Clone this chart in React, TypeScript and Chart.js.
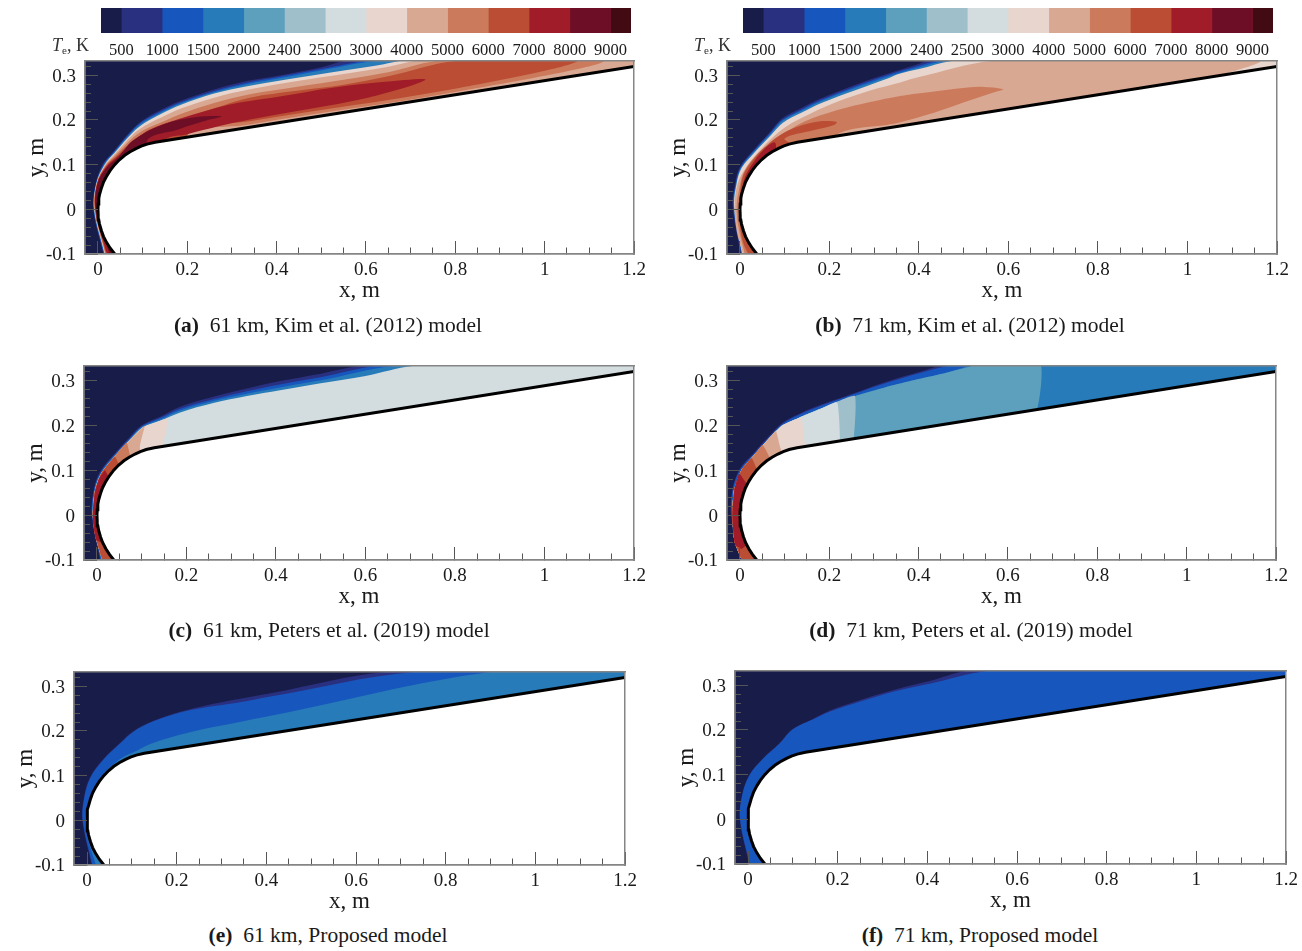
import React, { useEffect, useRef } from "react";
import { Chart, registerables } from "chart.js";

Chart.register(...registerables);
Chart.defaults.font.family = '"Liberation Serif", serif';
Chart.defaults.color = "#1a1a1a";

type P = [number, number];
type Layer = [number, P[], number?];

const levelColors = ["#181c48", "#2a3080", "#1757bd", "#277bb9", "#5ca0bd", "#9fbfcb", "#d3dcdf", "#e8d5cd", "#d9a892", "#cc7a5c", "#ba4d33", "#a01c28", "#6e0e26", "#420b14"];
const levelLabels = ["500", "1000", "1500", "2000", "2400", "2500", "3000", "4000", "5000", "6000", "7000", "8000", "9000"];
const levelSpans = [0.5, 1, 1, 1, 1, 1, 1, 1, 1, 1, 1, 1, 1, 0.5];
const levelTicks = [0.5, 1.5, 2.5, 3.5, 4.5, 5.5, 6.5, 7.5, 8.5, 9.5, 10.5, 11.5, 12.5];

const xMin = -0.029, xMax = 1.2, yMin = -0.1, yMax = 0.332;
const xMajor = [0, 0.2, 0.4, 0.6, 0.8, 1, 1.2];
const xMinor = [0.05, 0.1, 0.15, 0.25, 0.3, 0.35, 0.45, 0.5, 0.55, 0.65, 0.7, 0.75, 0.85, 0.9, 0.95, 1.05, 1.1, 1.15];
const yMajor = [-0.1, 0, 0.1, 0.2, 0.3];
const yMinorT = [-0.08, -0.06, -0.04, -0.02, 0.02, 0.04, 0.06, 0.08, 0.12, 0.14, 0.16, 0.18, 0.22, 0.24, 0.26, 0.28, 0.32];

const wholePlot: P[] = [[-0.029, -0.1], [-0.029, 0.332], [1.2, 0.332], [1.2, -0.1]];
const bodyLine: P[] = [[0.0375, -0.1], [0.0275, -0.087], [0.0198, -0.075], [0.0125, -0.061], [0.0078, -0.048], [0.0035, -0.033], [0.0019, -0.024], [0.0005, -0.012], [0, 0], [0.0005, 0.012], [0.0019, 0.024], [0.0035, 0.033], [0.0078, 0.048], [0.0125, 0.061], [0.0198, 0.075], [0.0275, 0.087], [0.0375, 0.1], [0.048, 0.111], [0.06, 0.121], [0.072, 0.129], [0.085, 0.136], [0.097, 0.1415], [0.11, 0.146], [0.128, 0.15], [1.2, 0.32]];
const bodyFill: P[] = [...bodyLine, [1.2, -0.1]];
const under: P[] = [[1.2, 0.3], [1.2, -0.1], [0.2, -0.11]];
const topRight: P = [1.2, 0.333];

// Panel (a)
const a1: P[] = [[0.012, -0.1], [-0.0105, 0], [-0.005, 0.058], [0.012, 0.103], [0.034, 0.129], [0.075, 0.177], [0.101, 0.2], [0.139, 0.2216], [0.183, 0.242], [0.258, 0.2676], [0.333, 0.287], [0.407, 0.2996], [0.5, 0.318], [0.56, 0.333]];
const a2: P[] = [[0.013, -0.1], [-0.0098, 0], [-0.0045, 0.058], [0.013, 0.102], [0.035, 0.128], [0.076, 0.176], [0.102, 0.198], [0.14, 0.219], [0.184, 0.239], [0.259, 0.2645], [0.334, 0.2835], [0.408, 0.2965], [0.5, 0.314], [0.62, 0.333]];
const a3: P[] = [[0.014, -0.1], [-0.0092, 0], [-0.004, 0.058], [0.014, 0.101], [0.036, 0.127], [0.077, 0.174], [0.103, 0.196], [0.141, 0.217], [0.185, 0.237], [0.26, 0.262], [0.335, 0.2805], [0.41, 0.294], [0.5, 0.311], [0.64, 0.333]];
const a7: P[] = [[0.015, -0.1], [-0.0085, 0], [-0.0035, 0.058], [0.015, 0.1], [0.037, 0.126], [0.078, 0.172], [0.104, 0.193], [0.142, 0.214], [0.186, 0.234], [0.26, 0.259], [0.34, 0.2764], [0.45, 0.295], [0.55, 0.311], [0.64, 0.325], [0.685, 0.333]];
const a8: P[] = [[0.016, -0.1], [-0.0078, 0], [-0.003, 0.058], [0.016, 0.099], [0.038, 0.124], [0.079, 0.168], [0.105, 0.187], [0.143, 0.206], [0.187, 0.226], [0.26, 0.25], [0.34, 0.2688], [0.45, 0.288], [0.55, 0.303], [0.65, 0.319], [0.72, 0.333]];
const a9: P[] = [[0.017, -0.1], [-0.0072, 0], [-0.0025, 0.058], [0.017, 0.098], [0.04, 0.122], [0.08, 0.162], [0.107, 0.18], [0.145, 0.196], [0.19, 0.215], [0.26, 0.238], [0.34, 0.2575], [0.45, 0.275], [0.55, 0.29], [0.65, 0.307], [0.77, 0.333], [1.133, 0.333], [0.793, 0.2613], [0.34, 0.19], [0.15, 0.15]];
const a10: P[] = [[0.018, -0.1], [-0.0065, 0], [-0.002, 0.058], [0.018, 0.097], [0.042, 0.12], [0.082, 0.157], [0.11, 0.172], [0.15, 0.187], [0.2, 0.205], [0.26, 0.226], [0.34, 0.25], [0.45, 0.266], [0.55, 0.279], [0.65, 0.298], [0.808, 0.333], [1.074, 0.333], [0.793, 0.2688], [0.34, 0.197], [0.2, 0.165]];
const a11: P[] = [[0.02, -0.1], [-0.0058, 0], [-0.0015, 0.058], [0.019, 0.096], [0.044, 0.118], [0.083, 0.155], [0.115, 0.178], [0.183, 0.203], [0.295, 0.2345], [0.34, 0.2425], [0.407, 0.2525], [0.529, 0.2728], [0.642, 0.2853], [0.733, 0.29], [0.604, 0.25], [0.34, 0.201], [0.2, 0.168], [0.15, 0.15]];
const a12: P[] = [[0.026, -0.1], [-0.0048, 0], [-0.001, 0.058], [0.02, 0.094], [0.045, 0.116], [0.079, 0.1548], [0.146, 0.19], [0.2207, 0.2066], [0.2767, 0.208], [0.243, 0.199], [0.183, 0.18], [0.109, 0.1472]];

// Panel (b)
const b1: P[] = [[0.0015, -0.1], [-0.0164, 0.006], [-0.011, 0.058], [0, 0.0954], [0.0298, 0.1325], [0.067, 0.1733], [0.093, 0.2029], [0.134, 0.2253], [0.179, 0.2476], [0.2535, 0.2773], [0.328, 0.303], [0.395, 0.324], [0.42, 0.333]];
const b2: P[] = [[0.003, -0.1], [-0.015, 0.006], [-0.0095, 0.058], [0.0015, 0.0945], [0.031, 0.131], [0.068, 0.1715], [0.094, 0.2], [0.135, 0.222], [0.18, 0.2445], [0.2545, 0.274], [0.329, 0.3], [0.396, 0.32], [0.45, 0.333]];
const b3: P[] = [[0.004, -0.1], [-0.014, 0.006], [-0.0085, 0.058], [0.0025, 0.0935], [0.032, 0.13], [0.069, 0.17], [0.095, 0.198], [0.136, 0.22], [0.181, 0.242], [0.255, 0.271], [0.33, 0.297], [0.397, 0.317], [0.47, 0.333]];
const b7: P[] = [[0.005, -0.1], [-0.013, 0.006], [-0.0075, 0.058], [0.0035, 0.0925], [0.033, 0.128], [0.07, 0.167], [0.096, 0.194], [0.137, 0.216], [0.182, 0.238], [0.256, 0.266], [0.33, 0.293], [0.358, 0.304], [0.4, 0.314], [0.486, 0.333]];
const b8: P[] = [[0.007, -0.1], [-0.007, -0.05], [-0.012, 0.006], [-0.005, 0.058], [0.015, 0.0954], [0.052, 0.14], [0.097, 0.1808], [0.1417, 0.2067], [0.216, 0.2402], [0.291, 0.266], [0.358, 0.284], [0.4, 0.296], [0.577, 0.333], [1.158, 0.333], [1.05, 0.295], [0.6, 0.2]];
const b9: P[] = [[0.011, -0.101], [-0.0037, -0.038], [-0.0075, 0.0063], [-0.0037, 0.036], [0.0075, 0.0805], [0.0298, 0.114], [0.067, 0.1474], [0.1044, 0.1733], [0.1417, 0.1955], [0.216, 0.2216], [0.291, 0.2402], [0.358, 0.2539], [0.4027, 0.26], [0.509, 0.2728], [0.547, 0.274], [0.588, 0.2688], [0.57, 0.2628], [0.509, 0.2425], [0.4336, 0.2163], [0.358, 0.195], [0.2, 0.15]];
const b10: P[] = [[0.019, -0.101], [0.0075, -0.0754], [0, -0.038], [-0.0015, 0.0063], [0, 0.036], [0.0075, 0.0766], [0.026, 0.1065], [0.052, 0.136], [0.089, 0.166], [0.1268, 0.1845], [0.179, 0.197], [0.216, 0.1956], [0.2088, 0.188], [0.164, 0.177], [0.1, 0.1585], [0.12, 0.14]];
const b11: P[] = [[0.012, -0.06], [0.0035, -0.03], [0.0018, -0.0175], [0.0033, 0.021], [0.009, 0.0657], [0.026, 0.099], [0.052, 0.1325], [0.078, 0.1496], [0.08, 0.12]];

// Panel (c)
const c1: P[] = [[0.0067, -0.1], [-0.012, 0], [-0.0067, 0.0594], [0.0067, 0.0965], [0.0365, 0.1336], [0.0738, 0.1745], [0.1, 0.2], [0.141, 0.219], [0.1857, 0.2413], [0.26, 0.2635], [0.335, 0.282], [0.409, 0.2984], [0.5, 0.315], [0.6, 0.333]];
const c2: P[] = [[0.008, -0.1], [-0.0105, 0], [-0.006, 0.059], [0.008, 0.0955], [0.037, 0.132], [0.075, 0.173], [0.1, 0.198], [0.141, 0.216], [0.186, 0.237], [0.26, 0.258], [0.335, 0.276], [0.409, 0.291], [0.5, 0.307], [0.64, 0.333]];
const c3: P[] = [[0.009, -0.1], [-0.0098, 0], [-0.0052, 0.057], [0.0085, 0.094], [0.038, 0.131], [0.0755, 0.1715], [0.101, 0.197], [0.141, 0.213], [0.186, 0.233], [0.26, 0.254], [0.335, 0.27], [0.409, 0.284], [0.5, 0.3], [0.68, 0.333]];
const cNose: P[] = [[0.012, -0.1], [-0.003, -0.05], [-0.0095, 0], [-0.0045, 0.055], [0.009, 0.092]];
const c6: P[] = [...cNose, [0.039, 0.13], [0.076, 0.17], [0.102, 0.195], [0.141, 0.21], [0.186, 0.2285], [0.26, 0.2495], [0.335, 0.265], [0.409, 0.278], [0.5, 0.2935], [0.6, 0.31], [0.72, 0.333]];
const c7: P[] = [...cNose, [0.039, 0.13], [0.076, 0.17], [0.102, 0.195], [0.141, 0.21], [0.1596, 0.2153], [0.1447, 0.14], [0.2, -0.11]];
const c8: P[] = [...cNose, [0.039, 0.13], [0.076, 0.17], [0.102, 0.195], [0.107, 0.199], [0.096, 0.1485], [0.2, -0.11]];
const c9: P[] = [...cNose, [0.039, 0.13], [0.0664, 0.161], [0.0738, 0.1336], [0.2, -0.11]];
const c10: P[] = [...cNose, [0.04, 0.13], [0.0515, 0.1076], [0.2, -0.11]];
const c11: P[] = [[0.014, -0.063], [-0.002, -0.0557], [-0.0085, -0.02], [-0.009, 0.01], [-0.0045, 0.052], [0.004, 0.08], [0.018, 0.1], [0.029, 0.078], [0.1, 0]];

// Panel (d)
const d1: P[] = [[0.0015, -0.1], [-0.0201, 0], [-0.0164, 0.0594], [0, 0.1039], [0.0298, 0.1374], [0.067, 0.1781], [0.093, 0.2041], [0.134, 0.2264], [0.179, 0.245], [0.2535, 0.271], [0.328, 0.2969], [0.4027, 0.3192], [0.458, 0.333]];
const d2: P[] = [[0.003, -0.1], [-0.019, 0], [-0.0155, 0.059], [0.0012, 0.1025], [0.031, 0.136], [0.068, 0.176], [0.094, 0.2025], [0.135, 0.2245], [0.18, 0.243], [0.254, 0.269], [0.329, 0.2945], [0.4035, 0.3165], [0.48, 0.333]];
const dNose: P[] = [[0.004, -0.1], [-0.012, -0.06], [-0.0175, 0], [-0.0135, 0.055], [0.003, 0.1], [0.032, 0.134]];
const dShoulder: P[] = [[0.069, 0.175], [0.095, 0.2], [0.134, 0.2175], [0.179, 0.236]];
const dTail: P[] = [[0.2535, 0.264], [0.328, 0.2855], [0.4027, 0.3035], [0.46, 0.3165], [0.526, 0.333]];
const d3: P[] = [...dNose, ...dShoulder, ...dTail, topRight];
const d4: P[] = [...dNose, ...dShoulder, ...dTail, [0.673, 0.333], [0.662, 0.23], [0.2, -0.11]];
const d5: P[] = [...dNose, ...dShoulder, [0.257, 0.2655], [0.255, 0.1745], [0.2, -0.11]];
const d6: P[] = [...dNose, ...dShoulder, [0.2177, 0.2515], [0.2237, 0.1707], [0.2, -0.11]];
const d7: P[] = [...dNose, [0.069, 0.175], [0.095, 0.2], [0.134, 0.2175], [0.138, 0.219], [0.1454, 0.1596], [0.2, -0.11]];
const d8: P[] = [...dNose, [0.069, 0.175], [0.0805, 0.188], [0.091, 0.1485], [0.2, -0.11]];
const d9: P[] = [...dNose, [0.0507, 0.1559], [0.0656, 0.13], [0.2, -0.11]];
const d10: P[] = [[0.004, -0.1], [-0.012, -0.06], [-0.0175, 0], [-0.0135, 0.055], [0.003, 0.1], [0.0261, 0.127], [0.0373, 0.104], [0.2, -0.11]];
const d11: P[] = [[0.0037, -0.0757], [-0.011, -0.0668], [-0.0165, -0.02], [-0.0165, 0.01], [-0.012, 0.06], [-0.0015, 0.0928], [0.0149, 0.0705], [0.1, 0]];

// Panel (e)
const e1: P[] = [[0.0104, -0.1], [-0.0104, 0], [-0.0067, 0.052], [0.0067, 0.0965], [0.0365, 0.1373], [0.0738, 0.1735], [0.1037, 0.2], [0.1484, 0.2227], [0.208, 0.243], [0.2603, 0.2561], [0.3348, 0.271], [0.4094, 0.2844], [0.681, 0.333]];
const e2: P[] = [[0.012, -0.1], [-0.0095, 0], [-0.006, 0.05], [0.0075, 0.095], [0.037, 0.136], [0.074, 0.172], [0.1037, 0.1985], [0.1484, 0.2215], [0.208, 0.2415], [0.2603, 0.252], [0.3348, 0.263], [0.4094, 0.2769], [0.742, 0.333]];
const e3: P[] = [[0.02, -0.1], [0.003, -0.0445], [-0.003, 0], [0.0045, 0.0445], [0.0216, 0.0817], [0.044, 0.1114], [0.0738, 0.1373], [0.1037, 0.1522], [0.141, 0.1708], [0.1857, 0.1856], [0.2603, 0.2042], [0.3348, 0.219], [0.4094, 0.2338], [0.908, 0.333]];

// Panel (f)
const f1: P[] = [[0.0022, -0.1], [-0.0179, -0.0021], [-0.0142, 0.0497], [0.0022, 0.098], [0.0321, 0.1351], [0.0694, 0.1695], [0.0992, 0.2019], [0.1439, 0.2242], [0.1812, 0.2428], [0.2558, 0.2687], [0.3304, 0.291], [0.4049, 0.3096], [0.5, 0.333]];
const f2: P[] = [[0.004, -0.1], [-0.0175, -0.002], [-0.0138, 0.0497], [0.0025, 0.0975], [0.0325, 0.1345], [0.07, 0.169], [0.0995, 0.2012], [0.1445, 0.2235], [0.182, 0.241], [0.256, 0.2655], [0.3304, 0.2875], [0.4049, 0.3035], [0.55, 0.333]];

const open = (c: P[]): P[] => [...c, topRight, ...under];
const closed = (c: P[]): P[] => [...c, [0.2, -0.11]];

const SHARP = 0.12;
const layersA: Layer[] = [[1, open(a1)], [2, open(a2)], [3, open(a3)], [7, open(a7)], [8, open(a8)], [9, closed(a9)], [10, closed(a10)], [11, closed(a11)], [12, closed(a12)]];
const layersB: Layer[] = [[1, open(b1)], [2, open(b2)], [3, open(b3)], [7, open(b7)], [8, closed(b8)], [9, closed(b9)], [10, closed(b10)], [11, b11]];
const layersC: Layer[] = [[1, open(c1)], [2, open(c2)], [3, open(c3)], [6, open(c6)], [7, c7, SHARP], [8, c8, SHARP], [9, c9, SHARP], [10, c10, SHARP], [11, c11, SHARP]];
const layersD: Layer[] = [[1, open(d1)], [2, open(d2)], [3, [...d3, ...under]], [4, d4, SHARP], [5, d5, SHARP], [6, d6, SHARP], [7, d7, SHARP], [8, d8, SHARP], [9, d9, SHARP], [10, d10, SHARP], [11, d11, SHARP]];
const layersE: Layer[] = [[1, open(e1)], [2, open(e2)], [3, open(e3)]];
const layersF: Layer[] = [[1, open(f1)], [2, open(f2)]];

const panels = [
  { left: 85, top: 61, w: 549, h: 193, layers: layersA, caption: "61 km, Kim et al. (2012) model", tag: "(a)", cx: 328, cy: 325 },
  { left: 727, top: 61, w: 550, h: 193, layers: layersB, caption: "71 km, Kim et al. (2012) model", tag: "(b)", cx: 970, cy: 325 },
  { left: 84, top: 366, w: 550, h: 194, layers: layersC, caption: "61 km, Peters et al. (2019) model", tag: "(c)", cx: 329, cy: 630 },
  { left: 727, top: 366, w: 549, h: 194, layers: layersD, caption: "71 km, Peters et al. (2019) model", tag: "(d)", cx: 971, cy: 630 },
  { left: 74, top: 672, w: 551, h: 193, layers: layersE, caption: "61 km, Proposed model", tag: "(e)", cx: 328, cy: 935 },
  { left: 735, top: 671, w: 551, h: 193, layers: layersF, caption: "71 km, Proposed model", tag: "(f)", cx: 980, cy: 935 },
];

const PAD_L = 70, PAD_R = 36, PAD_T = 36, PAD_B = 55;
const frame = "#858585";
const tickCol = "#555555";

function polygon(color: string, pts: P[], tension: number) {
  return { data: pts.map(([x, y]) => ({ x, y })), showLine: true, fill: "shape", backgroundColor: color, borderWidth: 0, borderColor: "rgba(0,0,0,0)", pointRadius: 0, tension };
}

function secondary(axis: string, position: any, ticks: number[] | null, len: number) {
  return {
    type: "linear", axis, position,
    min: axis === "x" ? xMin : yMin, max: axis === "x" ? xMax : yMax,
    afterBuildTicks: (s: any) => { s.ticks = (ticks || []).map((value) => ({ value })); },
    ticks: { display: false, autoSkip: false },
    grid: { drawOnChartArea: false, drawTicks: !!ticks, tickLength: len, tickColor: tickCol, tickWidth: 1, z: 2 },
    border: { display: true, color: frame, width: 1.5, z: 2 },
  };
}

function Panel({ p }: { p: (typeof panels)[number] }) {
  const ref = useRef<HTMLCanvasElement>(null);
  useEffect(() => {
    // Chart.js paints the last dataset first, so the list runs from top-most to bottom-most.
    const datasets: any[] = [
      { data: bodyLine.map(([x, y]) => ({ x, y })), showLine: true, fill: false, borderColor: "#000000", borderWidth: 3, pointRadius: 0, tension: 0 },
      polygon("#ffffff", bodyFill, 0),
      ...[...p.layers].reverse().map(([lvl, pts, t]) => polygon(levelColors[lvl], pts, t ?? 0.35)),
      polygon(levelColors[0], wholePlot, 0),
    ];
    const chart = new Chart(ref.current!, {
      type: "scatter",
      data: { datasets },
      options: {
        animation: false, responsive: false, events: [],
        layout: { padding: { top: PAD_T, right: PAD_R, left: 0, bottom: 0 } },
        plugins: { legend: { display: false }, tooltip: { enabled: false } },
        scales: {
          x: {
            type: "linear", position: "bottom", min: xMin, max: xMax,
            afterFit: (s: any) => { s.height = PAD_B; },
            afterBuildTicks: (s: any) => { s.ticks = xMajor.map((value) => ({ value })); },
            ticks: { autoSkip: false, maxRotation: 0, padding: 18, font: { size: 19 }, color: "#1a1a1a", callback: (v: any) => String(v), z: 2 },
            grid: { drawOnChartArea: false, tickLength: -13, tickColor: tickCol, tickWidth: 1, z: 2 },
            border: { color: frame, width: 1.5, z: 2 },
            title: { display: true, text: "x, m", font: { size: 23 }, color: "#1a1a1a", padding: { top: 0, bottom: 4 } },
          },
          y: {
            type: "linear", position: "left", min: yMin, max: yMax,
            afterFit: (s: any) => { s.width = PAD_L; },
            afterBuildTicks: (s: any) => { s.ticks = yMajor.map((value) => ({ value })); },
            ticks: { autoSkip: false, padding: 22, labelOffset: 1.5, font: { size: 19 }, color: "#1a1a1a", callback: (v: any) => String(v), z: 2 },
            grid: { drawOnChartArea: false, tickLength: -13, tickColor: tickCol, tickWidth: 1, z: 2 },
            border: { color: frame, width: 1.5, z: 2 },
            title: { display: true, text: "y, m", font: { size: 23 }, color: "#1a1a1a", padding: { top: 8, bottom: 0 } },
          },
          xMinorAxis: secondary("x", { y: yMin }, xMinor, -7),
          yMinorAxis: secondary("y", { x: xMin }, yMinorT, -7),
          xTopAxis: secondary("x", { y: yMax }, null, 0),
          yRightAxis: secondary("y", { x: xMax }, null, 0),
        } as any,
      } as any,
    } as any);
    return () => chart.destroy();
  }, [p]);
  const W = PAD_L + p.w + PAD_R, H = PAD_T + p.h + PAD_B;
  return (
    <canvas ref={ref} width={W} height={H}
      style={{ position: "absolute", left: p.left - PAD_L, top: p.top - PAD_T, width: W, height: H }} />
  );
}

function ColorBar({ left }: { left: number }) {
  const ref = useRef<HTMLCanvasElement>(null);
  useEffect(() => {
    const chart = new Chart(ref.current!, {
      type: "bar",
      data: {
        labels: ["Te"],
        datasets: levelSpans.map((v, i) => ({ data: [v], backgroundColor: levelColors[i], barPercentage: 1, categoryPercentage: 1, borderWidth: 0 })),
      },
      options: {
        animation: false, responsive: false, events: [], indexAxis: "y",
        layout: { padding: { left: 30, right: 30, top: 0, bottom: 0 } },
        plugins: { legend: { display: false }, tooltip: { enabled: false } },
        scales: {
          x: {
            type: "linear", stacked: true, min: 0, max: 13,
            afterFit: (s: any) => { s.height = 30; },
            afterBuildTicks: (s: any) => { s.ticks = levelTicks.map((value) => ({ value })); },
            ticks: { autoSkip: false, maxRotation: 0, padding: 0, font: { size: 16.5 }, color: "#1a1a1a", callback: (_v: any, i: number) => levelLabels[i] },
            grid: { display: false }, border: { display: false },
          },
          y: { stacked: true, display: false },
        },
      } as any,
    } as any);
    return () => chart.destroy();
  }, [left]);
  return <canvas ref={ref} width={590} height={55} style={{ position: "absolute", left: left - 30, top: 8, width: 590, height: 55 }} />;
}

const textStyle: React.CSSProperties = { position: "absolute", fontFamily: '"Liberation Serif", serif', color: "#1a1a1a", whiteSpace: "nowrap" };

export default function App() {
  return (
    <div style={{ position: "absolute", left: 0, top: 0, width: 1302, height: 951, overflow: "hidden", background: "#fff" }}>
      <ColorBar left={101} />
      <ColorBar left={743} />
      {[52, 694].map((x) => (
        <div key={x} style={{ ...textStyle, left: x, top: 35, fontSize: 18, color: "#333" }}>
          <i>T</i><sub style={{ fontSize: 11, verticalAlign: -3 }}>e</sub>, K
        </div>
      ))}
      {panels.map((p) => <Panel key={p.tag} p={p} />)}
      {panels.map((p) => (
        <div key={p.tag + "c"} style={{ ...textStyle, left: p.cx, top: p.cy, transform: "translate(-50%,-50%)", fontSize: 21.5 }}>
          <b>{p.tag}</b>&nbsp; {p.caption}
        </div>
      ))}
    </div>
  );
}
